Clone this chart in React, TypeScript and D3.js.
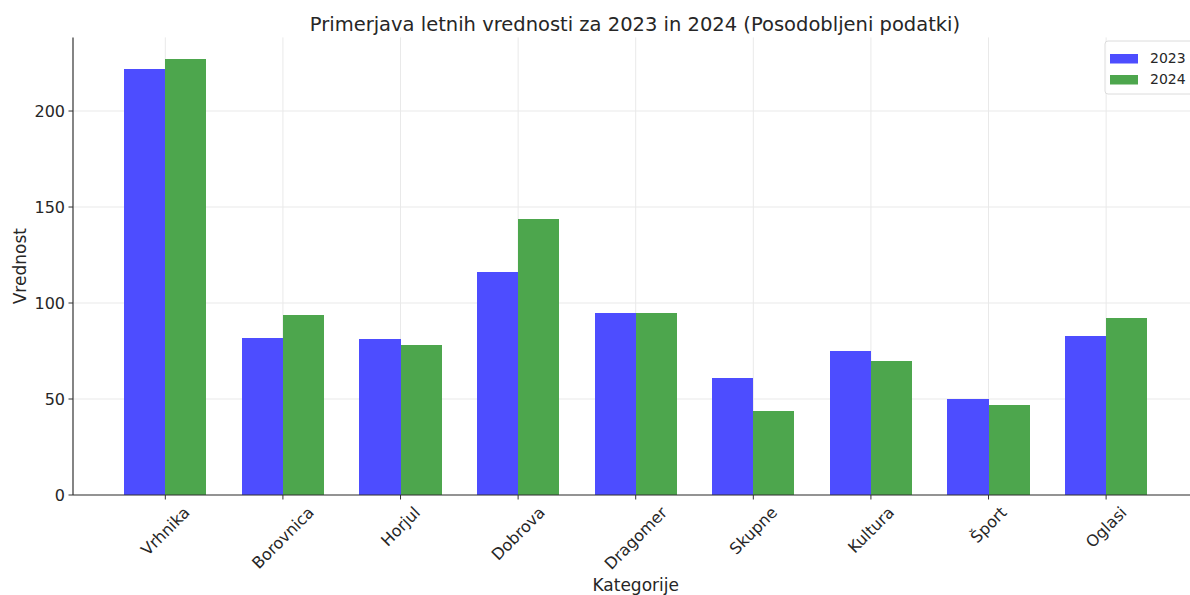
import React from "react";
import * as d3 from "d3";

const categories = ["Vrhnika", "Borovnica", "Horjul", "Dobrova", "Dragomer", "Skupne", "Kultura", "Šport", "Oglasi"];
const values2023 = [222, 82, 81, 116, 95, 61, 75, 50, 83];
const values2024 = [227, 94, 78, 144, 95, 44, 70, 47, 92];
const seriesNames = ["2023", "2024"];
const yTicks = [0, 50, 100, 150, 200];

const W = 1190;
const H = 595;
const FONT = "DejaVu Sans, sans-serif";
const COLORS = ["rgb(77,77,255)", "rgb(77,166,77)"];
const TICK_FS = 16;

function measure(text: string, size: number): number {
  if (typeof document === "undefined") return text.length * size * 0.6;
  const c = document.createElement("canvas").getContext("2d");
  if (!c) return text.length * size * 0.6;
  c.font = `${size}px "DejaVu Sans"`;
  return c.measureText(text).width;
}

export default function App() {
  const left = 73;
  const bottom = 495;
  const top = 37.4;
  const barW = 0.35;
  const n = categories.length;
  const xMin = -barW - 0.435;
  const xMax = n - 1 + barW + 0.435;
  const x = d3.scaleLinear().domain([xMin, xMax]).range([left, left + (xMax - xMin) * 117.6]);
  const yMax = d3.max([...values2023, ...values2024])! * 1.05;
  const y = d3.scaleLinear().domain([0, yMax]).range([bottom, top]);
  const series = [values2023, values2024];
  const right = x(xMax);
  const labelH = TICK_FS * 1.17;

  return (
    <svg width={W} height={H} style={{ position: "absolute", left: 0, top: 0, background: "#fff" }} fontFamily={FONT}>
      <rect width={W} height={H} fill="#fff" />
      {/* grid */}
      {yTicks.map((t) => (
        <line key={"gy" + t} x1={left} x2={right} y1={y(t)} y2={y(t)} stroke="#e9e9e9" strokeWidth={1} />
      ))}
      {categories.map((c, i) => (
        <line key={"gx" + c} x1={x(i)} x2={x(i)} y1={top} y2={bottom} stroke="#e9e9e9" strokeWidth={1} />
      ))}
      {/* bars */}
      <g shapeRendering="crispEdges">
        {series.map((vals, s) =>
          vals.map((v, i) => {
            const x0 = s === 0 ? x(i - barW) : x(i);
            const x1 = s === 0 ? x(i) : x(i + barW);
            return <rect key={s + "-" + i} x={x0} y={y(v)} width={x1 - x0} height={bottom - y(v)} fill={COLORS[s]} />;
          })
        )}
      </g>
      {/* axes */}
      <line x1={left} x2={left} y1={top} y2={bottom} stroke="#333" strokeWidth={1.2} />
      <line x1={left} x2={right} y1={bottom} y2={bottom} stroke="#333" strokeWidth={1.2} />
      {yTicks.map((t) => (
        <g key={"yt" + t}>
          <line x1={left - 4.5} x2={left} y1={y(t)} y2={y(t)} stroke="#333" strokeWidth={1} />
          <text x={left - 8} y={y(t)} dy="0.35em" textAnchor="end" fontSize={TICK_FS} fill="#262626">
            {t}
          </text>
        </g>
      ))}
      {categories.map((c, i) => {
        const w = measure(c, TICK_FS);
        const half = (w + labelH) / (2 * Math.SQRT2);
        const cy = bottom + 8 + half;
        return (
          <g key={"xt" + c}>
            <line x1={x(i)} x2={x(i)} y1={bottom} y2={bottom + 4.5} stroke="#333" strokeWidth={1} />
            <text
              transform={`translate(${x(i)},${cy}) rotate(-45)`}
              textAnchor="middle"
              dy="0.35em"
              fontSize={TICK_FS}
              fill="#262626"
            >
              {c}
            </text>
          </g>
        );
      })}
      {/* labels */}
      <text x={(left + right) / 2} y={591} textAnchor="middle" fontSize={17} fill="#262626">
        Kategorije
      </text>
      <text transform={`translate(26,${(top + bottom) / 2}) rotate(-90)`} textAnchor="middle" fontSize={17} fill="#262626">
        Vrednost
      </text>
      <text x={635} y={31} textAnchor="middle" fontSize={19.5} fill="#262626">
        Primerjava letnih vrednosti za 2023 in 2024 (Posodobljeni podatki)
      </text>
      {/* legend */}
      <g>
        <rect x={1105} y={41} width={90} height={53} rx={3} fill="#fff" fillOpacity={0.85} stroke="#dcdcdc" />
        {seriesNames.map((s, i) => (
          <g key={s}>
            <rect x={1110} y={54 + i * 21} width={28} height={9.5} fill={COLORS[i]} />
            <text x={1150} y={58.5 + i * 21} dy="0.35em" fontSize={14} fill="#262626">
              {s}
            </text>
          </g>
        ))}
      </g>
    </svg>
  );
}
